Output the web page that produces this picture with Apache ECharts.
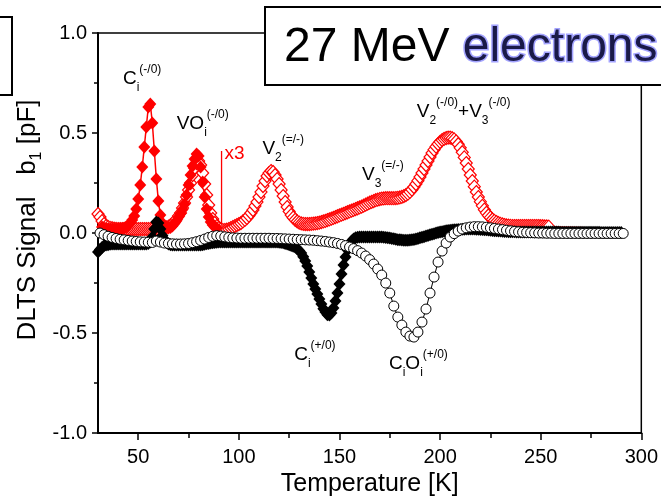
<!DOCTYPE html>
<html>
<head>
<meta charset="utf-8">
<script src="https://cdn.jsdelivr.net/npm/echarts@6/dist/echarts.min.js"></script>
<style>html,body{margin:0;padding:0;background:#fff}#main{width:661px;height:502px}</style>
</head>
<body>
<div id="main"></div>
<script>
// axis ticks
var xTicks = [50, 100, 150, 200, 250, 300];
var xMinor = [75, 125, 175, 225, 275];

// red open diamonds (x3 scaled), 1 K steps from 30 K
var redOpenStart = 30, redOpenStep = 1;
var redOpenVals = [
  0.095,0.08,0.06,0.045,0.035,0.03,0.026,0.024,0.022,0.021,
  0.02,0.02,0.02,0.02,0.02,0.02,0.02,0.02,0.02,0.02,
  0.02,0.02,0.02,0.02,0.02,0.02,0.02,0.02,0.02,0.02,
  0.02,0.02,0.022,0.025,0.028,0.032,0.038,0.045,0.055,0.07,
  0.085,0.1,0.125,0.15,0.18,0.215,0.25,0.29,0.325,0.35,
  0.36,0.34,0.3,0.245,0.19,0.14,0.1,0.07,0.05,0.035,
  0.025,0.018,0.015,0.015,0.017,0.02,0.025,0.03,0.035,0.04,
  0.045,0.05,0.058,0.066,0.075,0.087,0.1,0.115,0.135,0.155,
  0.18,0.205,0.235,0.26,0.285,0.3,0.31,0.305,0.29,0.27,
  0.245,0.215,0.185,0.155,0.13,0.108,0.09,0.077,0.066,0.058,
  0.052,0.048,0.046,0.045,0.045,0.045,0.046,0.047,0.048,0.05,
  0.052,0.055,0.058,0.061,0.065,0.068,0.072,0.076,0.08,0.084,
  0.088,0.092,0.096,0.1,0.104,0.108,0.112,0.116,0.12,0.124,
  0.128,0.132,0.137,0.142,0.147,0.152,0.156,0.16,0.164,0.167,
  0.17,0.172,0.173,0.174,0.174,0.174,0.174,0.174,0.175,0.176,
  0.178,0.181,0.185,0.19,0.197,0.206,0.217,0.23,0.245,0.262,
  0.28,0.3,0.32,0.34,0.36,0.38,0.4,0.417,0.432,0.445,
  0.456,0.465,0.471,0.475,0.477,0.477,0.474,0.468,0.458,0.444,
  0.426,0.404,0.378,0.35,0.32,0.29,0.26,0.232,0.205,0.18,
  0.157,0.136,0.117,0.101,0.088,0.077,0.068,0.061,0.055,0.05,
  0.046,0.043,0.04,0.038,0.037,0.036,0.035,0.035,0.035,0.035,
  0.035,0.035,0.035,0.035,0.035,0.035,0.035,0.035,0.035,0.035,
  0.034,0.034,0.033,0.033,0.032
];
var redTail = [[255, 0.032], [272, 0.028]];

// red filled diamonds, 1 K steps from 32 K
var redFilledStart = 32, redFilledStep = 1;
var redFilledVals = [
  0.03,0.025,0.022,0.02,0.02,0.02,0.02,0.02,0.02,0.02,
  0.022,0.025,0.03,0.038,0.05,0.065,0.085,0.12,0.17,0.24,
  0.33,0.43,0.53,0.63,0.645,0.55,0.41,0.27,0.16,0.09,
  0.05,0.032,0.026,0.025,0.028,0.035,0.048,0.062,0.08,0.098,
  0.118,0.145,0.19,0.24,0.29,0.335,0.37,0.395,0.385,0.33,
  0.255,0.18,0.12,0.08,0.055,0.04,0.03,0.025
];

// black filled diamonds, 1 K steps from 30 K
var blackFilledStart = 30, blackFilledStep = 1;
var blackFilledVals = [
  -0.095,-0.082,-0.072,-0.064,-0.06,-0.058,-0.056,-0.055,-0.055,-0.055,
  -0.055,-0.055,-0.055,-0.055,-0.055,-0.055,-0.055,-0.055,-0.055,-0.055,
  -0.055,-0.055,-0.055,-0.055,-0.055,-0.052,-0.045,-0.02,0.02,0.055,
  0.05,0.02,-0.012,-0.032,-0.047,-0.055,-0.058,-0.06,-0.06,-0.06,
  -0.06,-0.06,-0.06,-0.06,-0.06,-0.06,-0.06,-0.06,-0.06,-0.06,
  -0.06,-0.06,-0.058,-0.056,-0.054,-0.052,-0.05,-0.048,-0.047,-0.046,
  -0.045,-0.045,-0.045,-0.045,-0.045,-0.045,-0.045,-0.045,-0.045,-0.045,
  -0.045,-0.045,-0.045,-0.045,-0.045,-0.045,-0.045,-0.045,-0.045,-0.045,
  -0.045,-0.045,-0.045,-0.045,-0.045,-0.045,-0.045,-0.045,-0.045,-0.045,
  -0.046,-0.047,-0.049,-0.052,-0.055,-0.058,-0.062,-0.066,-0.07,-0.078,
  -0.088,-0.1,-0.118,-0.14,-0.165,-0.195,-0.225,-0.255,-0.28,-0.305,
  -0.33,-0.355,-0.378,-0.395,-0.408,-0.41,-0.4,-0.375,-0.34,-0.3,
  -0.255,-0.205,-0.16,-0.12,-0.085,-0.058,-0.04,-0.03,-0.024,-0.021,
  -0.02,-0.02,-0.02,-0.02,-0.02,-0.02,-0.02,-0.02,-0.02,-0.02,
  -0.02,-0.02,-0.021,-0.022,-0.023,-0.025,-0.027,-0.029,-0.031,-0.033,
  -0.034,-0.035,-0.036,-0.036,-0.036,-0.035,-0.034,-0.032,-0.03,-0.027,
  -0.024,-0.021,-0.018,-0.015,-0.012,-0.009,-0.006,-0.003,0.0,0.003,
  0.005,0.007,0.009,0.011,0.013,0.014,0.015,0.016,0.017,0.018,
  0.018,0.019,0.019,0.02,0.02,0.02,0.02,0.02,0.019,0.019,
  0.018,0.018,0.017,0.016,0.015,0.014,0.013,0.012,0.011,0.01,
  0.01,0.009,0.008,0.008,0.007,0.007,0.006,0.006,0.005,0.005,
  0.005,0.005,0.005,0.005,0.005,0.005,0.005,0.005,0.005,0.005,
  0.005,0.005,0.005,0.005,0.005,0.005,0.005,0.005,0.005,0.005,
  0.004,0.004,0.004,0.004,0.004,0.004,0.004,0.004,0.004,0.004,
  0.004,0.004,0.004,0.004,0.004,0.004,0.004,0.004,0.004,0.004,
  0.003,0.003,0.003,0.003,0.003,0.003,0.003,0.003,0.003,0.003,
  0.003
];

// black open circles, 2 K steps from 31 K
var circleStart = 31, circleStep = 2;
var circleVals = [
  0.0,-0.008,-0.016,-0.022,-0.027,-0.031,-0.034,-0.037,-0.04,-0.042,
  -0.044,-0.045,-0.046,-0.047,-0.04,-0.045,-0.05,-0.052,-0.054,-0.055,
  -0.055,-0.054,-0.052,-0.048,-0.043,-0.037,-0.03,-0.022,-0.016,-0.013,
  -0.015,-0.019,-0.022,-0.024,-0.025,-0.026,-0.026,-0.026,-0.026,-0.026,
  -0.026,-0.026,-0.026,-0.027,-0.027,-0.028,-0.029,-0.03,-0.031,-0.032,
  -0.033,-0.034,-0.035,-0.036,-0.038,-0.04,-0.042,-0.045,-0.048,-0.052,
  -0.057,-0.063,-0.07,-0.078,-0.088,-0.1,-0.115,-0.133,-0.155,-0.18,
  -0.21,-0.25,-0.3,-0.365,-0.42,-0.46,-0.495,-0.515,-0.52,-0.495,
  -0.445,-0.38,-0.3,-0.22,-0.145,-0.09,-0.05,-0.02,-0.003,0.01,
  0.02,0.026,0.03,0.032,0.032,0.031,0.029,0.026,0.023,0.02,
  0.017,0.014,0.011,0.008,0.006,0.004,0.003,0.002,0.001,0.0,
  0.0,-0.001,-0.001,-0.002,-0.002,-0.002,-0.002,-0.002,-0.002,-0.002,
  -0.002,-0.002,-0.002,-0.002,-0.002,-0.002,-0.002,-0.002,-0.002,-0.002,
  -0.002
];

// "x3" marker line
var x3Line = [[91.4, 0.0], [91.4, 0.41]];

// peak labels: [T, signal] of the baseline-left corner
var peakLabels = [
  {at: [42.4, 0.735], text: '{b|C}{s|i}{p|(-/0)}'},
  {at: [69.1, 0.51], text: '{b|VO}{s|i}{p|(-/0)}'},
  {at: [111.7, 0.385], text: '{b|V}{s|2}{p|(=/-)}'},
  {at: [161.2, 0.255], text: '{b|V}{s|3}{p|(=/-)}'},
  {at: [188.4, 0.57], text: '{b|V}{s|2}{p|(-/0)}{b|+V}{s|3}{p|(-/0)}'},
  {at: [127.5, -0.645], text: '{b|C}{s|i}{p|(+/0)}'},
  {at: [174.6, -0.69], text: '{b|C}{s|i}{b|O}{s|i}{p|(+/0)}'}
];
var x3Label = {at: [92.9, 0.36], text: 'x3'};

function pairs(start, step, vals) {
  return vals.map(function (v, i) { return [start + i * step, v]; });
}

var FONT = '"Liberation Sans", Arial, sans-serif';
var chart = echarts.init(document.getElementById('main'));

var tickStyle = {color: '#000', width: 1.5};
var option = {
  animation: false,
  backgroundColor: '#fff',
  grid: {left: 98, right: 16, top: 33, bottom: 68, show: true, borderColor: '#000', borderWidth: 1.5},
  xAxis: [{
    type: 'value', min: 30, max: 300,
    axisLine: {show: true, onZero: false, lineStyle: {color: '#000', width: 2}},
    axisTick: {show: true, length: 7, lineStyle: tickStyle, customValues: xTicks},
    axisLabel: {customValues: xTicks, margin: 14, fontSize: 20, color: '#000', fontFamily: FONT},
    splitLine: {show: false},
    name: 'Temperature [K]', nameLocation: 'middle', nameGap: 38,
    nameTextStyle: {fontSize: 25, color: '#000', fontFamily: FONT}
  }, {
    type: 'value', min: 30, max: 300, position: 'bottom',
    axisLine: {show: false, onZero: false},
    axisTick: {show: true, length: 5, lineStyle: tickStyle, customValues: xMinor},
    axisLabel: {show: false},
    splitLine: {show: false}
  }],
  yAxis: {
    type: 'value', min: -1, max: 1, interval: 0.5,
    axisLine: {show: true, onZero: false, lineStyle: {color: '#000', width: 2}},
    axisTick: {show: true, length: 6, lineStyle: tickStyle},
    minorTick: {show: true, splitNumber: 2, length: 4, lineStyle: tickStyle},
    axisLabel: {margin: 11, fontSize: 20, color: '#000', fontFamily: FONT,
      formatter: function (v) { return v.toFixed(1); }},
    splitLine: {show: false}
  },
  series: [
    {type: 'line', data: pairs(redOpenStart, redOpenStep, redOpenVals), symbol: 'diamond', symbolSize: [12, 13],
      itemStyle: {color: '#fff', borderColor: '#ff0000', borderWidth: 1.2}, lineStyle: {color: '#ff0000', width: 1}, silent: true},
    {type: 'line', data: redTail, showSymbol: false, itemStyle: {color: '#ff0000'}, lineStyle: {color: '#ff0000', width: 1}, silent: true},
    {type: 'line', data: x3Line, showSymbol: false, itemStyle: {color: '#ff0000'}, lineStyle: {color: '#ff0000', width: 1.3}, silent: true},
    {type: 'line', data: pairs(redFilledStart, redFilledStep, redFilledVals), symbol: 'diamond', symbolSize: [12, 13],
      itemStyle: {color: '#ff0000'}, lineStyle: {color: '#ff0000', width: 1.5}, silent: true},
    {type: 'line', data: pairs(blackFilledStart, blackFilledStep, blackFilledVals), symbol: 'diamond', symbolSize: [12, 13],
      itemStyle: {color: '#000'}, lineStyle: {color: '#000', width: 1}, silent: true},
    {type: 'line', data: pairs(circleStart, circleStep, circleVals), symbol: 'circle', symbolSize: 10,
      itemStyle: {color: '#fff', borderColor: '#000', borderWidth: 1}, lineStyle: {color: '#000', width: 1}, silent: true}
  ]
};
chart.setOption(option);

// boxes, titles and peak labels
var annRich = {
  b: {fontSize: 19, lineHeight: 30, verticalAlign: 'middle', fontFamily: FONT, fill: '#000'},
  s: {fontSize: 12, lineHeight: 12, verticalAlign: 'bottom', fontFamily: FONT, fill: '#000'},
  p: {fontSize: 12, lineHeight: 12, verticalAlign: 'top', fontFamily: FONT, fill: '#000'}
};
var g = [];
g.push({type: 'rect', shape: {x: -20, y: 17, width: 32, height: 78}, style: {fill: '#fff', stroke: '#000', lineWidth: 2}, z: 100});
g.push({type: 'rect', shape: {x: 265, y: 7, width: 430, height: 78}, style: {fill: '#fff', stroke: '#000', lineWidth: 2}, z: 100});
g.push({type: 'text', x: 284, y: 48, z: 101, style: {text: '{a|27 MeV }{e|electrons}', verticalAlign: 'middle',
  rich: {a: {fontSize: 48, fontFamily: FONT, fill: 'transparent'},
         e: {fontSize: 48, fontFamily: FONT, fill: '#a4a4ff', stroke: '#a4a4ff', lineWidth: 3}}}});
g.push({type: 'text', x: 284, y: 48, z: 102, style: {text: '{a|27 MeV }{e|electrons}', verticalAlign: 'middle',
  rich: {a: {fontSize: 48, fontFamily: FONT, fill: '#000'},
         e: {fontSize: 48, fontFamily: FONT, fill: '#1a1a48'}}}});
g.push({type: 'text', x: 28, y: 220, rotation: Math.PI / 2, z: 50, style: {
  text: 'DLTS Signal   b{s|1} [pF]', fontSize: 26, fontFamily: FONT, fill: '#000', align: 'center', verticalAlign: 'middle', lineHeight: 34,
  rich: {s: {fontSize: 16, lineHeight: 16, verticalAlign: 'bottom', fontFamily: FONT, fill: '#000'}}}});

peakLabels.forEach(function (l) {
  var p = chart.convertToPixel({gridIndex: 0}, l.at);
  g.push({type: 'text', x: p[0], y: p[1] - 22, z: 50, style: {text: l.text, verticalAlign: 'top', rich: annRich}});
});
var px3 = chart.convertToPixel({gridIndex: 0}, x3Label.at);
g.push({type: 'text', x: px3[0], y: px3[1] - 7, z: 50, style: {text: x3Label.text, fontSize: 19, fontFamily: FONT, fill: '#ff0000', verticalAlign: 'middle'}});

chart.setOption({graphic: g});
</script>
</body>
</html>
